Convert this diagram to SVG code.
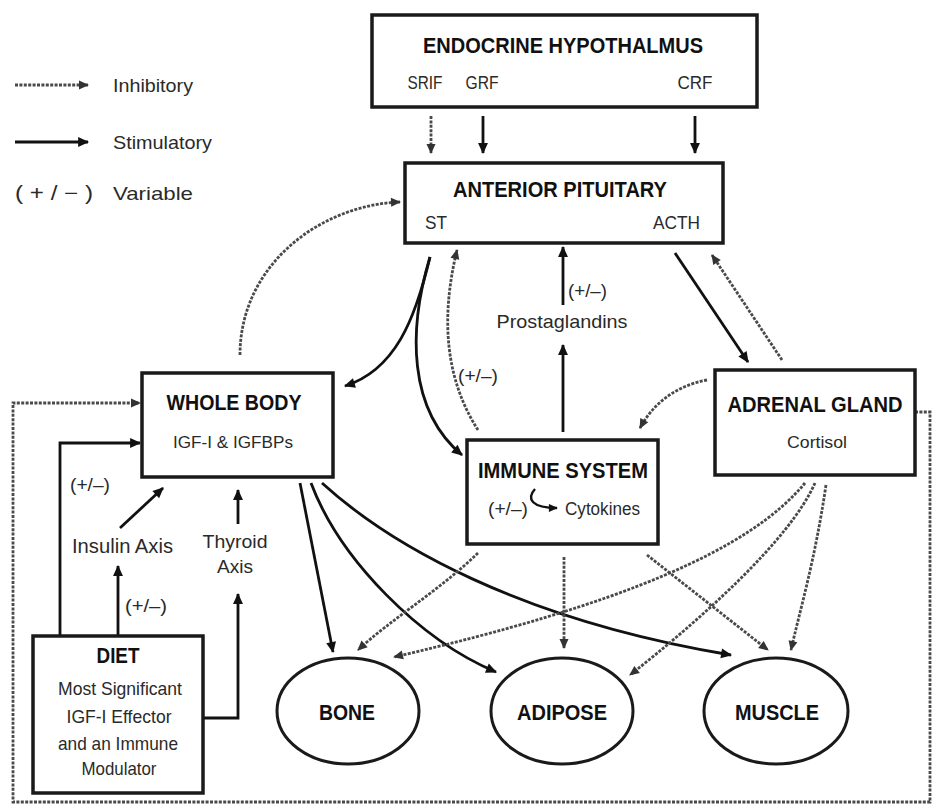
<svg xmlns="http://www.w3.org/2000/svg" width="938" height="811" viewBox="0 0 938 811">
<style>
text{font-family:"Liberation Sans Narrow","Liberation Sans",Arial,sans-serif;}
.t{font-weight:bold;font-size:22px;fill:#111;text-anchor:middle;}
.s{font-size:19px;fill:#2a2a2a;text-anchor:middle;}
.box{fill:#fff;stroke:#1a1a1a;stroke-width:3.5;}
.ell{fill:#fff;stroke:#1a1a1a;stroke-width:3;}
.st{fill:none;stroke:#111;stroke-width:2.8;marker-end:url(#a);}
.in{fill:none;stroke:#4a4a4a;stroke-width:2.8;stroke-dasharray:3 1.4;marker-end:url(#g);}
</style>
<defs>
<marker id="a" viewBox="0 0 10 10" refX="9" refY="5" markerWidth="13" markerHeight="11" markerUnits="userSpaceOnUse" orient="auto"><path d="M0,0.5 L10,5 L0,9.5 z" fill="#111"/></marker>
<marker id="g" viewBox="0 0 10 10" refX="9" refY="5" markerWidth="12" markerHeight="10" markerUnits="userSpaceOnUse" orient="auto"><path d="M0,0.5 L10,5 L0,9.5 z" fill="#333"/></marker>
<marker id="sm" viewBox="0 0 10 10" refX="9" refY="5" markerWidth="10" markerHeight="9" markerUnits="userSpaceOnUse" orient="auto"><path d="M0,0.5 L10,5 L0,9.5 z" fill="#111"/></marker>
</defs>
<rect width="938" height="811" fill="#fff"/>

<g id="legend">
<path class="in" d="M15,85 H88"/>
<text x="113" y="92" font-size="19" fill="#2a2a2a" textLength="80" lengthAdjust="spacingAndGlyphs">Inhibitory</text>
<path class="st" d="M15,142 H88"/>
<text x="113" y="149" font-size="19" fill="#2a2a2a" textLength="99" lengthAdjust="spacingAndGlyphs">Stimulatory</text>
<text x="15" y="200" font-size="20" fill="#2a2a2a" textLength="78" lengthAdjust="spacingAndGlyphs">( + / − )</text>
<text x="113" y="200" font-size="19" fill="#2a2a2a" textLength="80" lengthAdjust="spacingAndGlyphs">Variable</text>
</g>

<g id="connectors">
<path class="in" d="M431,116 V153"/>
<path class="st" d="M483,116 V153"/>
<path class="st" d="M695,116 V153"/>
<path class="in" d="M240,355 C240,265 320,205 400,202"/>
<path class="st" d="M430,257 C415,320 395,370 345,386"/>
<path class="st" d="M430,257 C408,330 408,410 462,455"/>
<path class="in" d="M478,430 C446,380 440,320 457,250"/>
<path class="st" d="M563,432 V345"/>
<path class="st" d="M563,305 V247"/>
<path class="st" d="M675,253 L748,362"/>
<path class="in" d="M782,360 L712,255"/>
<path class="in" d="M707,380 C680,385 655,400 640,428"/>
<path class="st" d="M300,483 L333,652"/>
<path class="st" d="M311,483 C340,560 420,640 496,672"/>
<path class="st" d="M322,483 C390,545 520,620 731,655"/>
<path class="in" d="M478,553 C440,590 390,620 358,650"/>
<path class="in" d="M564,557 V648"/>
<path class="in" d="M647,555 L768,650"/>
<path class="in" d="M805,483 C750,550 620,605 394,657"/>
<path class="in" d="M815,483 C790,540 700,620 630,675"/>
<path class="in" d="M826,485 C815,560 800,610 791,650"/>
<path class="in" d="M915,412 H930 V802 H13 V403 H140"/>
<path class="st" d="M60,636 V443 H140"/>
<path class="st" d="M118,636 V566"/>
<path class="st" d="M120,528 L163,488"/>
<path class="st" d="M203,718 H238 V594"/>
<path class="st" d="M238,524 V490"/>
</g>

<g id="labels">
<text class="s" x="235" y="548" textLength="65" lengthAdjust="spacingAndGlyphs">Thyroid</text>
<text class="s" x="235" y="573" textLength="36" lengthAdjust="spacingAndGlyphs">Axis</text>
<text x="72" y="553" font-size="20" fill="#2a2a2a" textLength="101" lengthAdjust="spacingAndGlyphs">Insulin Axis</text>
<text x="70" y="491" font-size="19" fill="#2a2a2a" textLength="40" lengthAdjust="spacingAndGlyphs">(+/–)</text>
<text x="125" y="612" font-size="19" fill="#2a2a2a" textLength="42" lengthAdjust="spacingAndGlyphs">(+/–)</text>
<text class="s" x="562" y="328" textLength="131" lengthAdjust="spacingAndGlyphs">Prostaglandins</text>
<text x="568" y="297" font-size="19" fill="#2a2a2a" textLength="39" lengthAdjust="spacingAndGlyphs">(+/–)</text>
<text x="458" y="382" font-size="19" fill="#2a2a2a" textLength="40" lengthAdjust="spacingAndGlyphs">(+/–)</text>
</g>

<g id="hypothalamus">
<rect class="box" x="372" y="15" width="385" height="92"/>
<text class="t" x="563" y="53" textLength="280" lengthAdjust="spacingAndGlyphs">ENDOCRINE HYPOTHALMUS</text>
<text class="s" x="425" y="89" textLength="35" lengthAdjust="spacingAndGlyphs">SRIF</text>
<text class="s" x="482" y="89" textLength="33" lengthAdjust="spacingAndGlyphs">GRF</text>
<text class="s" x="695" y="89" textLength="35" lengthAdjust="spacingAndGlyphs">CRF</text>
</g>

<g id="pituitary">
<rect class="box" x="405" y="163" width="318" height="80"/>
<text class="t" x="560" y="197" textLength="214" lengthAdjust="spacingAndGlyphs">ANTERIOR PITUITARY</text>
<text x="425" y="229" font-size="18" fill="#2a2a2a" textLength="22" lengthAdjust="spacingAndGlyphs">ST</text>
<text x="653" y="229" font-size="18" fill="#2a2a2a" textLength="47" lengthAdjust="spacingAndGlyphs">ACTH</text>
</g>

<g id="wholebody">
<rect class="box" x="142" y="373" width="191" height="104"/>
<text class="t" x="234" y="410" textLength="135" lengthAdjust="spacingAndGlyphs">WHOLE BODY</text>
<text x="233" y="448" font-size="17" fill="#2a2a2a" text-anchor="middle" textLength="120" lengthAdjust="spacingAndGlyphs">IGF-I &amp; IGFBPs</text>
</g>

<g id="immune">
<rect class="box" x="467" y="440" width="191" height="104"/>
<text class="t" x="563" y="478" textLength="170" lengthAdjust="spacingAndGlyphs">IMMUNE SYSTEM</text>
<text x="488" y="515" font-size="18" fill="#2a2a2a" textLength="40" lengthAdjust="spacingAndGlyphs">(+/–)</text>
<path fill="none" stroke="#111" stroke-width="2.4" marker-end="url(#sm)" d="M535,489 C526,499 532,508 557,508"/>
<text x="565" y="515" font-size="18" fill="#2a2a2a" textLength="75" lengthAdjust="spacingAndGlyphs">Cytokines</text>
</g>

<g id="adrenal">
<rect class="box" x="715" y="370" width="200" height="105"/>
<text class="t" x="815" y="412" textLength="175" lengthAdjust="spacingAndGlyphs">ADRENAL GLAND</text>
<text x="817" y="448" font-size="17" fill="#2a2a2a" text-anchor="middle" textLength="60" lengthAdjust="spacingAndGlyphs">Cortisol</text>
</g>

<g id="diet">
<rect class="box" x="33" y="636" width="170" height="157"/>
<text class="t" x="118" y="663" textLength="43" lengthAdjust="spacingAndGlyphs">DIET</text>
<text class="s" x="120" y="695" textLength="124" lengthAdjust="spacingAndGlyphs">Most Significant</text>
<text class="s" x="119" y="723" textLength="105" lengthAdjust="spacingAndGlyphs">IGF-I Effector</text>
<text class="s" x="118" y="750" textLength="120" lengthAdjust="spacingAndGlyphs">and an Immune</text>
<text class="s" x="119" y="775" textLength="75" lengthAdjust="spacingAndGlyphs">Modulator</text>
</g>

<g id="bone">
<ellipse class="ell" cx="348" cy="711" rx="71" ry="53"/>
<text class="t" x="347" y="720" textLength="56" lengthAdjust="spacingAndGlyphs">BONE</text>
</g>
<g id="adipose">
<ellipse class="ell" cx="562" cy="711" rx="71" ry="53"/>
<text class="t" x="562" y="720" textLength="90" lengthAdjust="spacingAndGlyphs">ADIPOSE</text>
</g>
<g id="muscle">
<ellipse class="ell" cx="776" cy="711" rx="72" ry="53"/>
<text class="t" x="777" y="720" textLength="84" lengthAdjust="spacingAndGlyphs">MUSCLE</text>
</g>
</svg>
